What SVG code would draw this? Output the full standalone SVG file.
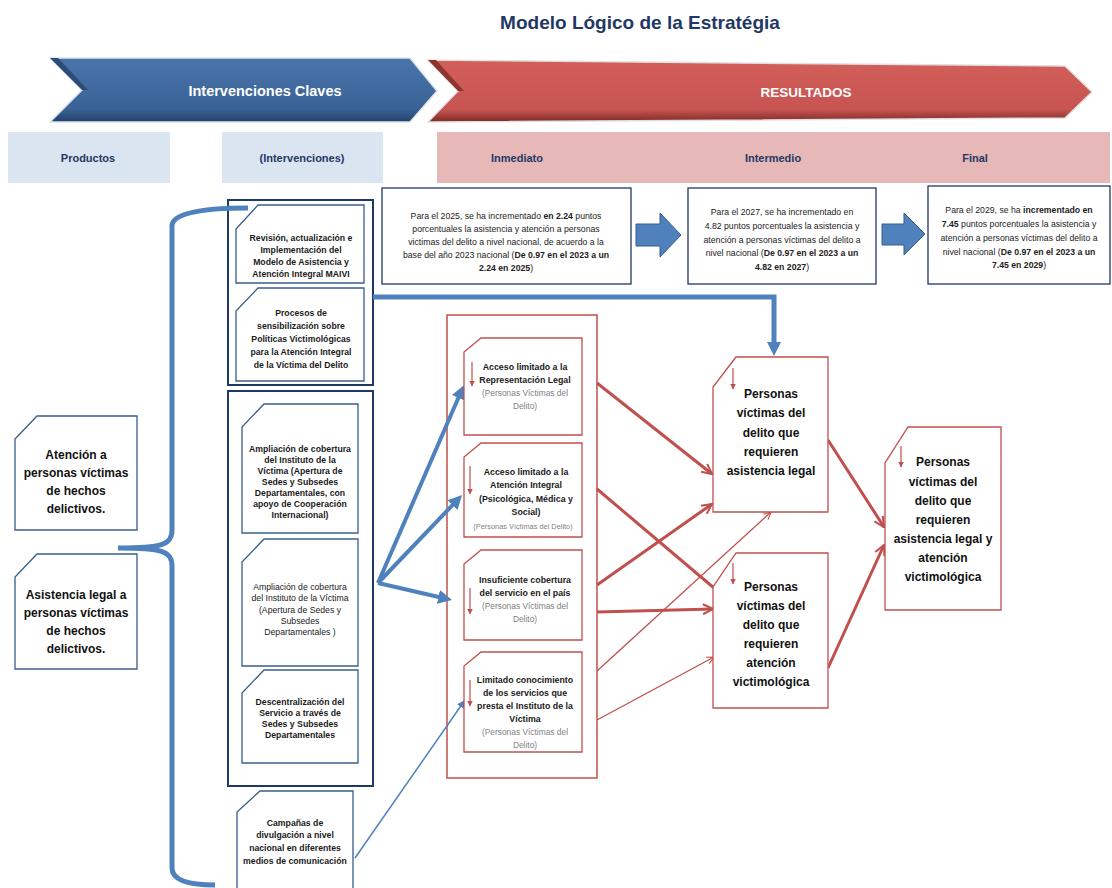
<svg xmlns="http://www.w3.org/2000/svg" width="1112" height="888" viewBox="0 0 1112 888">
<style>
text{font-family:"Liberation Sans",Arial,sans-serif}
.hdr{font-size:11px;font-weight:bold;fill:#1F3864;text-anchor:middle}
.box{fill:#fff;stroke:#1F3864;stroke-width:1.3}
.doc{fill:#fff;stroke:#385D8A;stroke-width:1.3}
.rdoc{fill:#fff;stroke:#C0504D;stroke-width:1.3}
.cont{fill:none;stroke:#1F3864;stroke-width:2}
.tb{font-size:8.7px;fill:#222;text-anchor:middle}
.lb{font-size:8.7px;font-weight:bold;fill:#1a1a1a;text-anchor:middle}
.ln{font-size:8.7px;fill:#1a1a1a;text-anchor:middle}
.rb{font-size:8.8px;font-weight:bold;fill:#1a1a1a;text-anchor:middle}
.rg{font-size:8.4px;fill:#7F7F7F;text-anchor:middle}
.big{font-size:12px;font-weight:bold;fill:#111;text-anchor:middle}
.bl{stroke:#4F81BD;fill:none}
.rl{stroke:#C0504D;fill:none}
.mini{stroke:#C0504D;stroke-width:1.2;fill:none}
</style>
<defs>
<linearGradient id="gB" x1="0" y1="0" x2="0" y2="1">
<stop offset="0" stop-color="#4A75AB"/><stop offset="0.8" stop-color="#3A6296"/><stop offset="1" stop-color="#22416B"/>
</linearGradient>
<linearGradient id="gR" x1="0" y1="0" x2="0" y2="1">
<stop offset="0" stop-color="#D25F5A"/><stop offset="0.8" stop-color="#C75450"/><stop offset="1" stop-color="#7E2A28"/>
</linearGradient>
<marker id="mB" viewBox="0 0 14 14" refX="6" refY="7" markerWidth="14" markerHeight="14" markerUnits="userSpaceOnUse" orient="auto">
<path d="M0,0 L14,7 L0,14 z" fill="#4F81BD"/>
</marker>
<marker id="mBs" viewBox="0 0 8 8" refX="4" refY="4" markerWidth="8" markerHeight="8" markerUnits="userSpaceOnUse" orient="auto">
<path d="M0,0 L8,4 L0,8 z" fill="#4F81BD"/>
</marker>
<marker id="mR" viewBox="0 0 12 12" refX="11" refY="6" markerWidth="12" markerHeight="12" markerUnits="userSpaceOnUse" orient="auto">
<path d="M1,1 L11,6 L1,11" fill="none" stroke="#C0504D" stroke-width="2"/>
</marker>
<marker id="mRs" viewBox="0 0 10 10" refX="9" refY="5" markerWidth="9" markerHeight="9" markerUnits="userSpaceOnUse" orient="auto">
<path d="M1,1 L9,5 L1,9" fill="none" stroke="#C0504D" stroke-width="1.2"/>
</marker>
<marker id="mMini" viewBox="0 0 6 6" refX="3" refY="5.5" markerWidth="6" markerHeight="6" markerUnits="userSpaceOnUse" orient="0">
<path d="M0,0 L3,6 L6,0 z" fill="#C0504D"/>
</marker>
</defs>
<rect width="1112" height="888" fill="#fff"/>

<text x="640" y="29" style="font-size:19px;font-weight:bold;fill:#1F3864" text-anchor="middle">Modelo Lógico de la Estratégia</text>

<g id="banner">
<polygon points="50,58 410,58 437,91 410,122 50,122 82,90" fill="url(#gB)" stroke="#DDE3EA" stroke-width="1.5"/>
<polygon points="50,58 82,90 88,90 58,58" fill="#2B4C78"/>
<polygon points="428,60 1065,66 1092,92 1065,118 428,122 458,91" fill="url(#gR)" stroke="#E0E0E0" stroke-width="1.5"/>
<polygon points="428,60 458,91 464,91 436,60" fill="#8E3431"/>
<text x="265" y="96" style="font-size:14.5px;font-weight:bold;fill:#fff" text-anchor="middle">Intervenciones Claves</text>
<text x="806" y="97" style="font-size:13.5px;font-weight:bold;fill:#fff" text-anchor="middle">RESULTADOS</text>
</g>

<g id="headers">
<rect x="8" y="132" width="162" height="51" fill="#DBE5F1"/>
<rect x="222" y="132" width="161" height="51" fill="#DBE5F1"/>
<rect x="437" y="132" width="673" height="51" fill="#E6B9B8"/>
<text class="hdr" x="88" y="162">Productos</text>
<text class="hdr" x="302" y="162">(Intervenciones)</text>
<text class="hdr" x="517" y="162">Inmediato</text>
<text class="hdr" x="773" y="162">Intermedio</text>
<text class="hdr" x="975" y="162">Final</text>
</g>

<g id="res-inmediato">
<rect class="box" x="382" y="188" width="249" height="96"/>
<text class="tb" x="506" y="219">Para el 2025,  se ha incrementado <tspan font-weight="bold">en 2.24</tspan> puntos</text>
<text class="tb" x="506" y="232">porcentuales la asistencia y atención a personas</text>
<text class="tb" x="506" y="245">victimas del delito a nivel nacional, de acuerdo a la</text>
<text class="tb" x="506" y="258">base del año 2023  nacional (<tspan font-weight="bold">De 0.97 en el 2023 a un</tspan></text>
<text class="tb" x="506" y="271"><tspan font-weight="bold">2.24 en 2025</tspan>)</text>
</g>
<g id="res-intermedio">
<rect class="box" x="688" y="188" width="188" height="96"/>
<text class="tb" x="782" y="215">Para el 2027,  se ha incrementado en</text>
<text class="tb" x="782" y="229">4.82 puntos porcentuales la asistencia y</text>
<text class="tb" x="782" y="243">atención a personas víctimas del delito a</text>
<text class="tb" x="782" y="256">nivel nacional (<tspan font-weight="bold">De 0.97 en el 2023 a un</tspan></text>
<text class="tb" x="782" y="270"><tspan font-weight="bold">4.82 en 2027</tspan>)</text>
</g>
<g id="res-final">
<rect class="box" x="928" y="186" width="182" height="98"/>
<text class="tb" x="1019" y="213">Para el 2029,  se ha <tspan font-weight="bold">incrementado en</tspan></text>
<text class="tb" x="1019" y="227"><tspan font-weight="bold">7.45</tspan>  puntos porcentuales la asistencia y</text>
<text class="tb" x="1019" y="241">atención a personas víctimas del delito a</text>
<text class="tb" x="1019" y="255">nivel nacional (<tspan font-weight="bold">De 0.97 en el 2023 a un</tspan></text>
<text class="tb" x="1019" y="268"><tspan font-weight="bold">7.45 en 2029</tspan>)</text>
</g>

<g id="containers">
<rect class="cont" x="228" y="200" width="145" height="185"/>
<rect class="cont" x="228" y="391" width="145" height="395"/>
<rect x="447" y="315" width="150" height="463" fill="none" stroke="#C0504D" stroke-width="1.5"/>
</g>

<g id="connectors">
<polygon points="636,224 660,224 660,213 681,235 660,257 660,246 636,246" fill="#4F81BD" stroke="#385D8A" stroke-width="1"/>
<polygon points="882,224 904,224 904,213 925,234 904,255 904,245 882,245" fill="#4F81BD" stroke="#385D8A" stroke-width="1"/>
<path class="bl" stroke-width="5" d="M248,208 Q172,208 172,226 L172,530 C172,545 162,548 118,548 C162,548 172,551 172,566 L172,868 Q172,885 215,885"/>
<path class="bl" stroke-width="5" d="M373,297 L774,297 L774,348" marker-end="url(#mB)"/>
<path class="bl" stroke-width="4" d="M378,583 L460.8,392.3" marker-end="url(#mB)"/>
<path class="bl" stroke-width="4" d="M378,583 L456.6,500.8" marker-end="url(#mB)"/>
<path class="bl" stroke-width="4" d="M378,583 L444.2,598.2" marker-end="url(#mB)"/>
<path class="bl" stroke-width="1.5" d="M355,858 L462.7,703.3" marker-end="url(#mBs)"/>
<path class="rl" stroke-width="3" d="M597,383 L712,474" marker-end="url(#mR)"/>
<path class="rl" stroke-width="3" d="M597,489 L714,588"/>
<path class="rl" stroke-width="3" d="M597,585 L712,504" marker-end="url(#mR)"/>
<path class="rl" stroke-width="3" d="M597,612 L713,609" marker-end="url(#mR)"/>
<path class="rl" stroke-width="1.3" d="M597,671 L771,512" marker-end="url(#mRs)"/>
<path class="rl" stroke-width="1.3" d="M597,720 L714,657" marker-end="url(#mRs)"/>
<path class="rl" stroke-width="3" d="M828,440 L884,527" marker-end="url(#mR)"/>
<path class="rl" stroke-width="3" d="M828,668 L884,545" marker-end="url(#mR)"/>
</g>

<g id="prod-atencion">
<path class="doc" d="M37,416 L137,416 L137,530 L15,530 L15,439 Z"/>
<text class="big" x="76" y="459">Atención a</text>
<text class="big" x="76" y="477">personas víctimas</text>
<text class="big" x="76" y="495">de hechos</text>
<text class="big" x="76" y="513">delictivos.</text>
</g>
<g id="prod-asistencia">
<path class="doc" d="M37,554 L137,554 L137,669 L15,669 L15,577 Z"/>
<text class="big" x="76" y="599">Asistencia legal a</text>
<text class="big" x="76" y="617">personas víctimas</text>
<text class="big" x="76" y="635">de hechos</text>
<text class="big" x="76" y="653">delictivos.</text>
</g>

<g id="int-maivi">
<path class="doc" d="M258,205 L364,205 L364,283 L236,283 L236,229 Z"/>
<text class="lb" x="301" y="241">Revisión, actualización e</text>
<text class="lb" x="301" y="253">Implementación del</text>
<text class="lb" x="301" y="265">Modelo de Asistencia y</text>
<text class="lb" x="301" y="277">Atención Integral  MAIVI</text>
</g>
<g id="int-sensibilizacion">
<path class="doc" d="M258,288 L364,288 L364,381 L236,381 L236,311 Z"/>
<text class="lb" x="301" y="316">Procesos de</text>
<text class="lb" x="301" y="329">sensibilización sobre</text>
<text class="lb" x="301" y="342">Políticas Victimológicas</text>
<text class="lb" x="301" y="355">para la Atención Integral</text>
<text class="lb" x="301" y="368">de la Víctima del Delito</text>
</g>
<g id="int-ampliacion-coop">
<path class="doc" d="M264,404 L358,404 L358,533 L242,533 L242,427 Z"/>
<text class="lb" x="300" y="452">Ampliación de cobertura</text>
<text class="lb" x="300" y="463">del Instituto de la</text>
<text class="lb" x="300" y="474">Víctima (Apertura de</text>
<text class="lb" x="300" y="485">Sedes y Subsedes</text>
<text class="lb" x="300" y="496">Departamentales, con</text>
<text class="lb" x="300" y="507">apoyo de Cooperación</text>
<text class="lb" x="300" y="518">Internacional)</text>
</g>
<g id="int-ampliacion">
<path class="doc" d="M264,539 L358,539 L358,666 L242,666 L242,562 Z"/>
<text class="ln" x="300" y="590">Ampliación de cobertura</text>
<text class="ln" x="300" y="601">del Instituto de la Víctima</text>
<text class="ln" x="300" y="613">(Apertura de Sedes y</text>
<text class="ln" x="300" y="624">Subsedes</text>
<text class="ln" x="300" y="635">Departamentales )</text>
</g>
<g id="int-descentralizacion">
<path class="doc" d="M264,670 L358,670 L358,763 L242,763 L242,693 Z"/>
<text class="lb" x="300" y="705">Descentralización del</text>
<text class="lb" x="300" y="716">Servicio a través de</text>
<text class="lb" x="300" y="727">Sedes y Subsedes</text>
<text class="lb" x="300" y="738">Departamentales</text>
</g>
<g id="int-campanas">
<path class="doc" d="M260,791 L353,791 L353,896 L237,896 L237,812 Z"/>
<text class="lb" x="295" y="826">Campañas de</text>
<text class="lb" x="295" y="838">divulgación a nivel</text>
<text class="lb" x="295" y="851">nacional en diferentes</text>
<text class="lb" x="295" y="864">medios de comunicación</text>
</g>

<g id="prob-representacion">
<path class="rdoc" d="M481,338 L582,338 L582,435 L464,435 L464,352 Z"/>
<path class="mini" d="M472,362 L472,386" marker-end="url(#mMini)"/>
<text class="rb" x="525" y="370">Acceso limitado a la</text>
<text class="rb" x="525" y="383">Representación  Legal</text>
<text class="rg" x="525" y="396">(Personas  Víctimas del</text>
<text class="rg" x="525" y="409">Delito)</text>
</g>
<g id="prob-atencion">
<path class="rdoc" d="M481,443 L582,443 L582,537 L464,537 L464,457 Z"/>
<path class="mini" d="M470,466 L470,494" marker-end="url(#mMini)"/>
<text class="rb" x="526" y="475">Acceso limitado a la</text>
<text class="rb" x="526" y="488">Atención  Integral</text>
<text class="rb" x="526" y="502">(Psicológica, Médica y</text>
<text class="rb" x="526" y="515">Social)</text>
<text class="rg" x="523" y="529" style="font-size:7.4px">(Personas Víctimas del Delito)</text>
</g>
<g id="prob-cobertura">
<path class="rdoc" d="M481,550 L582,550 L582,640 L464,640 L464,564 Z"/>
<path class="mini" d="M470,588 L470,614" marker-end="url(#mMini)"/>
<text class="rb" x="525" y="583">Insuficiente cobertura</text>
<text class="rb" x="525" y="596">del servicio en el país</text>
<text class="rg" x="525" y="609">(Personas Víctimas del</text>
<text class="rg" x="525" y="622">Delito)</text>
</g>
<g id="prob-conocimiento">
<path class="rdoc" d="M481,652 L582,652 L582,752 L464,752 L464,666 Z"/>
<path class="mini" d="M470,680 L470,706" marker-end="url(#mMini)"/>
<text class="rb" x="525" y="683">Limitado conocimiento</text>
<text class="rb" x="525" y="696">de los servicios que</text>
<text class="rb" x="525" y="709">presta el Instituto de la</text>
<text class="rb" x="525" y="722">Víctima</text>
<text class="rg" x="525" y="735">(Personas  Víctimas del</text>
<text class="rg" x="525" y="748">Delito)</text>
</g>

<g id="res-legal">
<path class="rdoc" d="M736,357 L828,357 L828,512 L713,512 L713,387 Z"/>
<path class="mini" d="M733,368 L733,389" marker-end="url(#mMini)"/>
<text class="big" x="771" y="398">Personas</text>
<text class="big" x="771" y="417">víctimas del</text>
<text class="big" x="771" y="437">delito que</text>
<text class="big" x="771" y="456">requieren</text>
<text class="big" x="771" y="475">asistencia  legal</text>
</g>
<g id="res-victimologica">
<path class="rdoc" d="M736,553 L828,553 L828,708 L713,708 L713,587 Z"/>
<path class="mini" d="M733,563 L733,584" marker-end="url(#mMini)"/>
<text class="big" x="771" y="591">Personas</text>
<text class="big" x="771" y="610">víctimas del</text>
<text class="big" x="771" y="629">delito que</text>
<text class="big" x="771" y="648">requieren</text>
<text class="big" x="771" y="667">atención</text>
<text class="big" x="771" y="686">victimológica</text>
</g>
<g id="res-final-personas">
<path class="rdoc" d="M908,427 L1001,427 L1001,610 L885,610 L885,463 Z"/>
<path class="mini" d="M901,446 L901,467" marker-end="url(#mMini)"/>
<text class="big" x="943" y="466">Personas</text>
<text class="big" x="943" y="486">víctimas del</text>
<text class="big" x="943" y="505">delito que</text>
<text class="big" x="943" y="524">requieren</text>
<text class="big" x="943" y="543">asistencia  legal y</text>
<text class="big" x="943" y="562">atención</text>
<text class="big" x="943" y="581">victimológica</text>
</g>
</svg>
